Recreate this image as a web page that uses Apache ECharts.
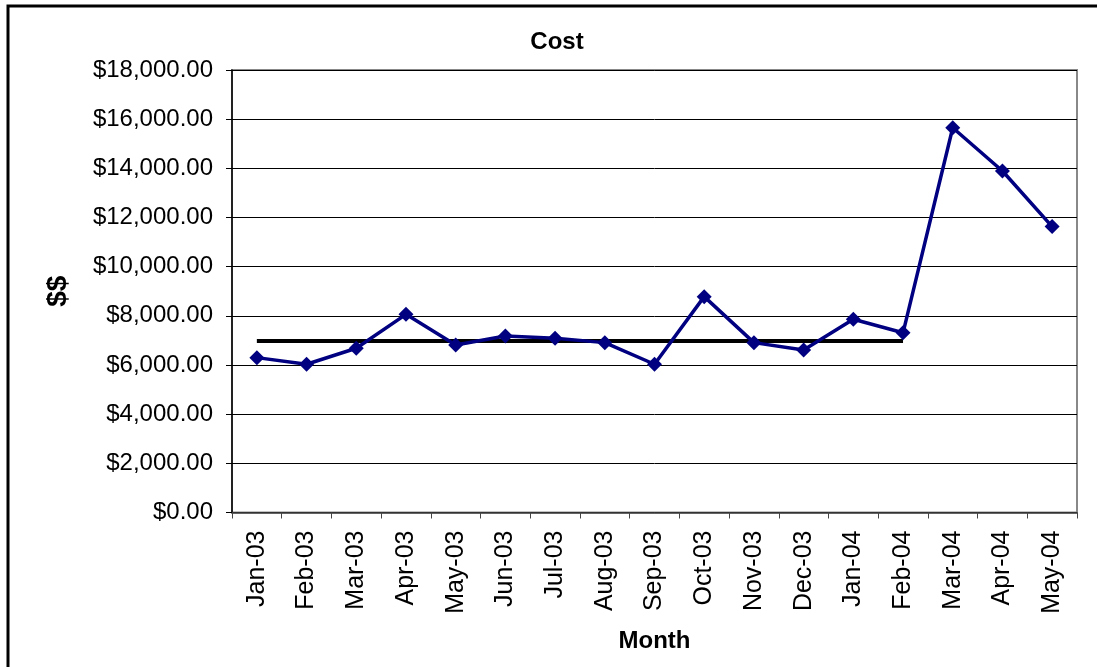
<!DOCTYPE html>
<html>
<head>
<meta charset="utf-8">
<script src="https://cdn.jsdelivr.net/npm/echarts@6/dist/echarts.min.js"></script>
<style>
  html, body { margin: 0; padding: 0; background: #fff; }
  #chart { width: 1097px; height: 667px; }
</style>
</head>
<body>
<div id="chart"></div>
<script>
// Monthly cost figures
const months = ['Jan-03', 'Feb-03', 'Mar-03', 'Apr-03', 'May-03', 'Jun-03', 'Jul-03', 'Aug-03',
  'Sep-03', 'Oct-03', 'Nov-03', 'Dec-03', 'Jan-04', 'Feb-04', 'Mar-04', 'Apr-04', 'May-04'];
const cost = [6300, 6030, 6680, 8060, 6810, 7180, 7090, 6910,
  6030, 8780, 6910, 6610, 7860, 7310, 15650, 13890, 11630];
// Baseline average, drawn from the first to the last baseline month
const baselineAvg = 6980;
const baselineMonths = ['Jan-03', 'Feb-04'];

const FONT = 'Liberation Sans, Arial, sans-serif';

const chart = echarts.init(document.getElementById('chart'), null, { renderer: 'canvas' });

const money = v => '$' + v.toLocaleString('en-US', { minimumFractionDigits: 2, maximumFractionDigits: 2 });

chart.setOption({
  animation: false,
  backgroundColor: '#ffffff',
  graphic: [{
    type: 'rect',
    shape: { x: 8, y: 6, width: 1200, height: 800 },
    style: { fill: 'none', stroke: '#000', lineWidth: 3 },
    silent: true
  }],
  title: {
    text: 'Cost',
    left: 557,
    top: 30,
    textAlign: 'center',
    padding: 0,
    textStyle: { fontFamily: FONT, fontSize: 24, fontWeight: 'bold', color: '#000' }
  },
  grid: {
    left: 232, right: 20, top: 70, bottom: 154.5,
    show: true,
    borderColor: '#888',
    borderWidth: 2,
    backgroundColor: 'transparent'
  },
  xAxis: {
    type: 'category',
    data: months,
    boundaryGap: true,
    name: 'Month',
    nameLocation: 'middle',
    nameGap: 117,
    nameTextStyle: { fontFamily: FONT, fontSize: 24, fontWeight: 'bold', color: '#000' },
    axisLine: { lineStyle: { color: '#444', width: 1.5 } },
    axisTick: { show: true, length: 6, lineStyle: { color: '#444' } },
    axisLabel: {
      rotate: 90,
      margin: 18,
      fontFamily: FONT,
      fontSize: 25,
      color: '#000'
    },
    splitLine: { show: false }
  },
  yAxis: {
    type: 'value',
    min: 0, max: 18000, interval: 2000,
    name: '$$',
    nameLocation: 'middle',
    nameRotate: 90,
    nameGap: 160,
    nameTextStyle: { fontFamily: FONT, fontSize: 28, fontWeight: 'bold', color: '#000' },
    axisLine: { show: true, lineStyle: { color: '#000', width: 1.5 } },
    axisTick: { show: true, length: 6, lineStyle: { color: '#000' } },
    axisLabel: {
      margin: 19,
      fontFamily: FONT,
      fontSize: 24,
      color: '#000',
      formatter: money
    },
    splitLine: { show: true, lineStyle: { color: '#000', width: 1 } }
  },
  series: [
    {
      name: 'Average',
      type: 'line',
      data: baselineMonths.map(m => [m, baselineAvg]),
      symbol: 'none',
      lineStyle: { color: '#000', width: 4 },
      z: 2
    },
    {
      name: 'Cost',
      type: 'line',
      data: cost,
      symbol: 'diamond',
      symbolSize: 15,
      itemStyle: { color: '#000080' },
      lineStyle: { color: '#000080', width: 3.5 },
      z: 3
    }
  ]
});
</script>
</body>
</html>
